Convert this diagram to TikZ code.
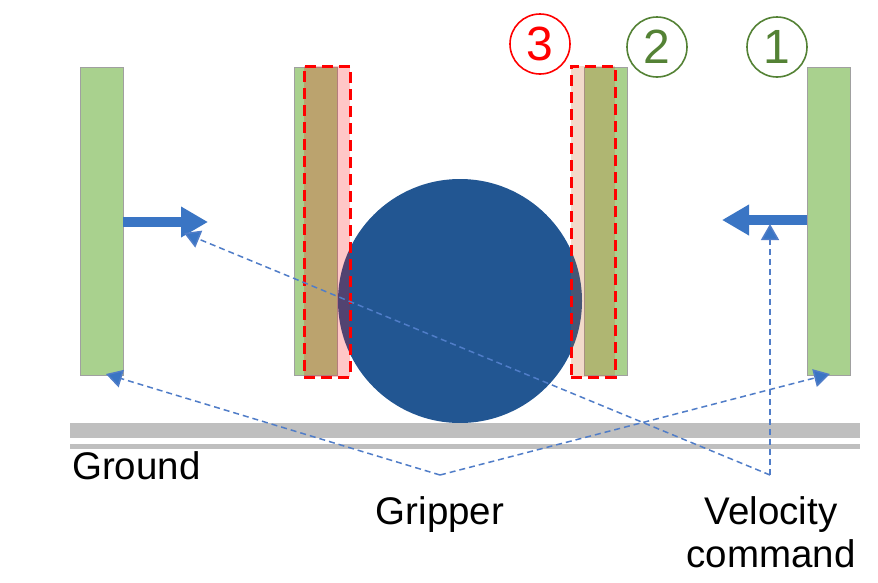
\documentclass[tikz,border=0pt]{standalone}
\usepackage{fontspec}
\setmainfont{Liberation Sans}
\usetikzlibrary{arrows.meta}
\definecolor{plategreen}{RGB}{169,209,142}
\definecolor{plateedge}{RGB}{160,160,160}
\definecolor{balblue}{RGB}{34,86,146}
\definecolor{arrblue}{RGB}{58,117,196}
\definecolor{linkblue}{RGB}{80,125,200}
\definecolor{numgreen}{RGB}{84,130,53}
\definecolor{overorange}{RGB}{197,90,17}
\definecolor{groundgray}{RGB}{191,191,191}
\tikzset{
  plate/.style={rectangle, fill=plategreen, draw=plateedge, line width=0.8pt, minimum width=43pt, minimum height=308pt, inner sep=0pt},
  ghost/.style={rectangle, draw=red, line width=3pt, dash pattern=on 11pt off 6pt, fill opacity=0.22, minimum width=46pt, minimum height=311pt, inner sep=0pt},
  ball/.style={circle, fill=balblue, minimum size=244pt, inner sep=0pt},
  circnum/.style={circle, draw, line width=1.6pt, minimum size=60pt, inner sep=0pt, font=\fontsize{48}{48}\selectfont},
  bigarrow/.style={arrblue, line width=10pt, -{Triangle[length=27pt,width=29pt]}},
  link/.style={linkblue, line width=1.5pt, dash pattern=on 6pt off 4pt, -{Triangle[length=16pt,width=18pt,fill=arrblue]}},
  lbl/.style={font=\fontsize{38.5}{44}\selectfont, inner sep=0pt, anchor=base}
}
\begin{document}
\begin{tikzpicture}[x=1pt,y=-1pt]
\useasboundingbox (0,0) rectangle (878,582);
\fill[white] (0,0) rectangle (878,582);
% plates
\node[plate] (p1) at (101.5,221) {};
\node[plate] (p2) at (315.5,221) {};
\node[plate] (p3) at (606,221) {};
\node[plate] (p4) at (828.5,221) {};
% object
\node[ball] (obj) at (460,301) {};
% target ghosts
\node[ghost, fill=red] (g1) at (327,221.5) {};
\node[ghost, fill=overorange, minimum width=44pt] (g2) at (593,221.5) {};
% ground
\fill[groundgray] (70,423) rectangle (860,438);
\fill[groundgray] (70,444) rectangle (860,449);
% numbers
\node[circnum, draw=red, text=red] (n3) at (540,44) {3};
\node[circnum, draw=numgreen, text=numgreen] (n2) at (657,47) {2};
\node[circnum, draw=numgreen, text=numgreen] (n1) at (777,47) {1};
% velocity arrows
\coordinate (a1) at (208,222);
\coordinate (a4) at (722,220);
\draw[bigarrow] (p1.east |- a1) -- (a1);
\draw[bigarrow] (p4.west |- a4) -- (a4);
% labels
\node[lbl, anchor=base west] (ground) at (72,479) {Ground};
\node[lbl] (grip) at (440,524) {Gripper};
\node[lbl] (vel) at (771,524) {Velocity};
\node[lbl] (cmd) at (771,567) {command};
% connectors
\coordinate (gj) at (440,475);
\coordinate (vj) at (770,475);
\coordinate (t1) at (106,374);
\coordinate (t4) at (830,374);
\coordinate (ta4) at (770,224);
\coordinate (ta1) at (184,233);
\draw[link] (gj) -- (t1);
\draw[link] (gj) -- (t4);
\draw[link] (vj) -- (ta4);
\draw[link] (vj) -- (ta1);
\end{tikzpicture}
\end{document}
